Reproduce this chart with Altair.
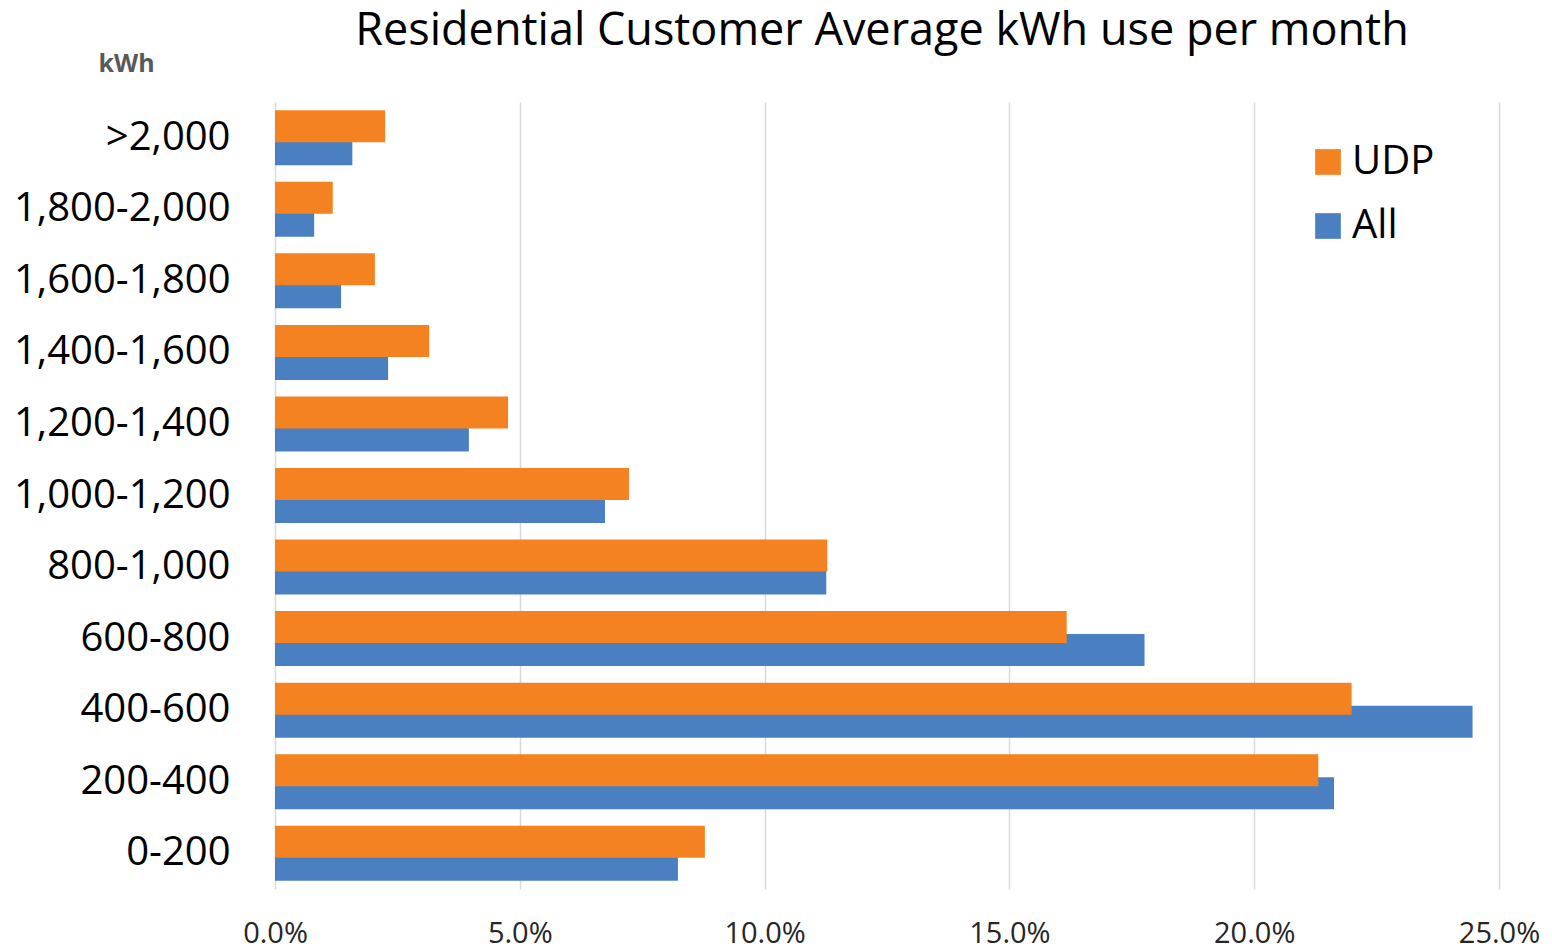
import altair as alt
import pandas as pd

categories = [">2,000", "1,800-2,000", "1,600-1,800", "1,400-1,600", "1,200-1,400",
              "1,000-1,200", "800-1,000", "600-800", "400-600", "200-400", "0-200"]
udp = [2.25, 1.18, 2.04, 3.15, 4.76, 7.23, 11.28, 16.17, 21.99, 21.31, 8.78]
all_ = [1.58, 0.80, 1.35, 2.31, 3.96, 6.74, 11.26, 17.76, 24.46, 21.63, 8.23]
series = ["UDP", "All"]
colors = ["#F58220", "#4A80C2"]
x_ticks = [0, 0.05, 0.10, 0.15, 0.20, 0.25]

rows = []
for c, u, a in zip(categories, udp, all_):
    rows.append({"kwh": c, "series": "UDP", "share": u / 100})
    rows.append({"kwh": c, "series": "All", "share": a / 100})
df = pd.DataFrame(rows)

FONT = "Open Sans"

x_enc = alt.X("share:Q",
              scale=alt.Scale(domain=[0, 0.25], nice=False, zero=True),
              axis=alt.Axis(values=x_ticks, format=".1%", title=None,
                            grid=True, gridColor="#D9D9D9", gridWidth=1.5,
                            ticks=False, domain=False, labelFlush=False,
                            labelFontSize=29, labelFont=FONT, labelColor="#262626",
                            labelPadding=30))
y_enc = alt.Y("kwh:N",
              scale=alt.Scale(domain=categories, paddingInner=0, paddingOuter=0),
              axis=alt.Axis(title="kWh", titleAngle=0, titleX=-149, titleY=-39,
                            titleAlign="center", titleBaseline="middle",
                            titleFont=FONT, titleFontSize=25, titleFontWeight="bold",
                            titleColor="#595959",
                            ticks=False, domain=False, grid=False,
                            labelFontSize=40, labelFont=FONT, labelColor="#000000",
                            labelPadding=45, labelLimit=0))
color_enc = alt.Color("series:N",
                      scale=alt.Scale(domain=series, range=colors),
                      legend=alt.Legend(title=None, orient="none", legendX=1033, legendY=40,
                                        symbolType="square", symbolSize=660,
                                        symbolStrokeWidth=0, symbolOpacity=1,
                                        labelFontSize=40, labelFont=FONT, labelColor="#000000",
                                        labelOffset=4, rowPadding=24))

base = alt.Chart(df).encode(x=x_enc, y=y_enc, color=color_enc)

blue = base.transform_filter(alt.datum.series == "All").mark_bar(height=32, yOffset=11.5)
orange = base.transform_filter(alt.datum.series == "UDP").mark_bar(height=32, yOffset=-11.5)

chart = alt.layer(blue, orange).properties(
    width=1224, height=787,
    title=alt.TitleParams("Residential Customer Average kWh use per month",
                          font=FONT, fontSize=45, fontWeight="normal", color="#000000",
                          anchor="middle", offset=-3, dx=-5),
    autosize=alt.AutoSizeParams(type="none"),
    padding={"left": 267, "top": 94, "right": 45, "bottom": 60},
).configure_view(stroke=None)

chart.save("out.html", embed_options={"renderer": "svg", "actions": False})
